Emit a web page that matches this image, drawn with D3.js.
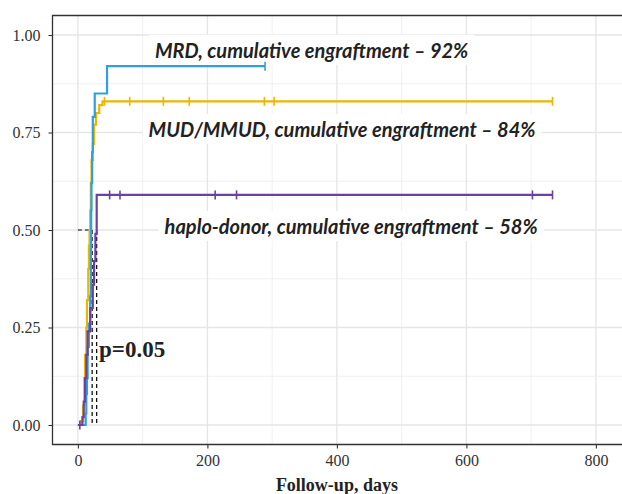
<!DOCTYPE html>
<html>
<head>
<meta charset="utf-8">
<script src="https://cdn.jsdelivr.net/npm/d3@7"></script>
<style>
  body { margin: 0; background: #fff; overflow: hidden; }
  svg { display: block; overflow: hidden; }
</style>
</head>
<body>
<div id="chart"></div>
<script>
// chart data
const xTicks = [0, 200, 400, 600, 800];
const yTicks = [0, 0.25, 0.5, 0.75, 1];

const mrdTime = [0, 12, 13, 14, 15, 17, 19, 20, 20.5, 21, 22, 23, 26, 45];
const mrdValue = [0, 0.03, 0.08, 0.12, 0.20, 0.26, 0.33, 0.45, 0.55, 0.62, 0.70, 0.79, 0.85, 0.92];
const mrdEnd = 289;
const mrdCensor = [289];

const mudTime = [0, 5, 8, 10, 11, 13, 14, 16, 17, 18, 19, 20, 21, 23, 25, 28, 33, 38];
const mudValue = [0, 0.01, 0.05, 0.12, 0.18, 0.25, 0.32, 0.40, 0.46, 0.50, 0.55, 0.62, 0.68, 0.72, 0.77, 0.80, 0.82, 0.83];
const mudEnd = 733;
const mudCensor = [41, 80, 132, 172, 288, 303, 733];

const haploTime = [0, 7, 9, 11, 13, 15, 19, 23, 25, 27, 29];
const haploValue = [0, 0.02, 0.06, 0.12, 0.18, 0.24, 0.30, 0.36, 0.42, 0.49, 0.59];
const haploEnd = 733;
const haploCensor = [3, 49, 65, 212, 245, 702, 733];

const medianTimes = [22, 29];

const labels = [
  "MRD, cumulative engraftment \u2013 92%",
  "MUD/MMUD, cumulative engraftment \u2013 84%",
  "haplo-donor, cumulative engraftment \u2013 58%"
];
const labelX = [361, 408, 422];
const labelY = [0.962, 0.759, 0.51];
const pText = "p=0.05";

const width = 622, height = 494;
const svg = d3.select("#chart").append("svg")
  .attr("width", width)
  .attr("height", height);

const x = d3.scaleLinear().domain([-40, 840]).range([52, 621.8]);
const y = d3.scaleLinear().domain([-0.05, 1.05]).range([444.5, 15.5]);

// grid
const grid = svg.append("g");
[100, 300, 500, 700].forEach(v => grid.append("line")
  .attr("x1", x(v)).attr("x2", x(v)).attr("y1", y(-0.05)).attr("y2", y(1.05))
  .attr("stroke", "#ececec").attr("stroke-width", 0.8));
[0.125, 0.375, 0.625, 0.875].forEach(v => grid.append("line")
  .attr("x1", x(-40)).attr("x2", x(860)).attr("y1", y(v)).attr("y2", y(v))
  .attr("stroke", "#ececec").attr("stroke-width", 0.8));
xTicks.forEach(v => grid.append("line")
  .attr("x1", x(v)).attr("x2", x(v)).attr("y1", y(-0.05)).attr("y2", y(1.05))
  .attr("stroke", "#e6e6e6").attr("stroke-width", 1.4));
yTicks.forEach(v => grid.append("line")
  .attr("x1", x(-40)).attr("x2", x(860)).attr("y1", y(v)).attr("y2", y(v))
  .attr("stroke", "#e6e6e6").attr("stroke-width", 1.4));

// label boxes (white background behind the text)
const labelFont = "italic 700 20px Lato, 'Open Sans', sans-serif";
const labelG = svg.append("g");

// curves
const curves = [
  { t: mudTime, v: mudValue, end: mudEnd, cens: mudCensor, color: "#E7B800" },
  { t: mrdTime, v: mrdValue, end: mrdEnd, cens: mrdCensor, color: "#2E9FDF" },
  { t: haploTime, v: haploValue, end: haploEnd, cens: haploCensor, color: "#6E3FA3" }
];

const line = d3.line()
  .x(d => x(d[0]))
  .y(d => y(d[1]))
  .curve(d3.curveStepAfter);

function valueAt(c, t) {
  let val = 0;
  c.t.forEach((tt, i) => { if (tt <= t) val = c.v[i]; });
  return val;
}

// median lines
const dash = svg.append("g")
  .attr("stroke", "#000")
  .attr("stroke-width", 1.2)
  .attr("stroke-dasharray", "4,3")
  .attr("fill", "none");
dash.append("line")
  .attr("x1", x(0)).attr("x2", x(medianTimes[0])).attr("y1", y(0.5)).attr("y2", y(0.5));
medianTimes.forEach(m => dash.append("line")
  .attr("x1", x(m)).attr("x2", x(m)).attr("y1", y(0.5)).attr("y2", y(0)));

curves.forEach(c => {
  const pts = c.t.map((t, i) => [t, c.v[i]]);
  pts.push([c.end, c.v[c.v.length - 1]]);
  svg.append("path")
    .datum(pts)
    .attr("d", line)
    .attr("fill", "none")
    .attr("stroke", c.color)
    .attr("stroke-width", 2.2);
  svg.append("g").selectAll("line")
    .data(c.cens)
    .join("line")
    .attr("x1", d => x(d)).attr("x2", d => x(d))
    .attr("y1", d => y(valueAt(c, d)) - 4.5)
    .attr("y2", d => y(valueAt(c, d)) + 4.5)
    .attr("stroke", c.color)
    .attr("stroke-width", 1.6);
});

// annotations
labels.forEach((txt, i) => {
  const t = svg.append("text")
    .attr("x", x(labelX[i]))
    .attr("y", y(labelY[i]))
    .attr("text-anchor", "middle")
    .attr("dominant-baseline", "central")
    .style("font", labelFont)
    .attr("fill", "#222")
    .text(txt);
  const bb = t.node().getBBox();
  labelG.append("rect")
    .attr("x", bb.x - 6).attr("y", bb.y - 3)
    .attr("width", bb.width + 12).attr("height", bb.height + 6)
    .attr("fill", "#fff");
});

svg.append("text")
  .attr("x", 99)
  .attr("y", 357)
  .style("font", "bold 23px 'Liberation Serif', serif")
  .attr("fill", "#222")
  .text(pText);

// panel frame (left, top, bottom; right side is off the page)
svg.append("path")
  .attr("d", `M640,15.5H52.5V444.5H640`)
  .attr("fill", "none")
  .attr("stroke", "#333")
  .attr("stroke-width", 1.3);

// axes
const serif = "'Liberation Serif', 'DejaVu Serif', serif";
const yAxis = svg.append("g")
  .attr("transform", "translate(52.5,0)")
  .call(d3.axisLeft(y).tickValues(yTicks).tickFormat(d3.format(".2f")).tickSize(4).tickPadding(8));
const xAxis = svg.append("g")
  .attr("transform", "translate(0,444.5)")
  .call(d3.axisBottom(x).tickValues(xTicks).tickSize(4).tickPadding(6));
[xAxis, yAxis].forEach(a => {
  a.select(".domain").remove();
  a.selectAll(".tick line").attr("stroke", "#333").attr("stroke-width", 1.1);
  a.selectAll(".tick text")
    .style("font-family", serif)
    .style("font-size", "16px")
    .attr("fill", "#333");
});

svg.append("text")
  .attr("x", x(400))
  .attr("y", 491)
  .attr("text-anchor", "middle")
  .style("font", "bold 18px " + serif)
  .attr("fill", "#222")
  .text("Follow-up, days");
</script>
</body>
</html>
